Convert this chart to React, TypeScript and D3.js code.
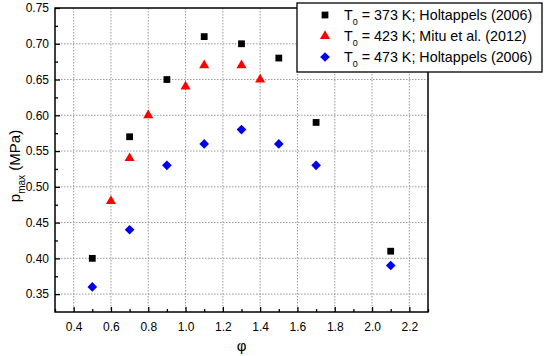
import React, { useEffect, useRef } from 'react';
import * as d3 from 'd3';

const phi373 = [0.5, 0.7, 0.9, 1.1, 1.3, 1.5, 1.7, 2.1];
const p373 = [0.40, 0.57, 0.65, 0.71, 0.70, 0.68, 0.59, 0.41];
const phi423 = [0.6, 0.7, 0.8, 1.0, 1.1, 1.3, 1.4];
const p423 = [0.48, 0.54, 0.60, 0.64, 0.67, 0.67, 0.65];
const phi473 = [0.5, 0.7, 0.9, 1.1, 1.3, 1.5, 1.7, 2.1];
const p473 = [0.36, 0.44, 0.53, 0.56, 0.58, 0.56, 0.53, 0.39];

const xTicks = [0.4, 0.6, 0.8, 1.0, 1.2, 1.4, 1.6, 1.8, 2.0, 2.2];
const yTicks = [0.35, 0.40, 0.45, 0.50, 0.55, 0.60, 0.65, 0.70, 0.75];
const legendTemps = ['373', '423', '473'];
const legendRefs = ['Holtappels (2006)', 'Mitu et al. (2012)', 'Holtappels (2006)'];

const W = 550, H = 356;
const margin = { top: 8, right: 122, bottom: 44, left: 55 };
const font = 'Arial, "Liberation Sans", sans-serif';

const App = () => {
    const ref = useRef(null);

    useEffect(() => {
        const svg = d3.select(ref.current);
        svg.selectAll('*').remove();
        const width = W - margin.left - margin.right;
        const height = H - margin.top - margin.bottom;
        const g = svg.append('g').attr('transform', `translate(${margin.left},${margin.top})`);

        const x = d3.scaleLinear().domain([0.3, 2.3]).range([0, width]);
        const y = d3.scaleLinear().domain([0.325, 0.75]).range([height, 0]);

        // grid
        g.selectAll('.gx').data(xTicks).join('line')
            .attr('x1', d => x(d)).attr('x2', d => x(d))
            .attr('y1', 0).attr('y2', height)
            .attr('stroke', '#999').attr('stroke-dasharray', '1.5,1.5');
        g.selectAll('.gy').data(yTicks.filter(d => d < 0.75)).join('line')
            .attr('y1', d => y(d)).attr('y2', d => y(d))
            .attr('x1', 0).attr('x2', width)
            .attr('stroke', '#999').attr('stroke-dasharray', '1.5,1.5');

        // axes (inward ticks)
        const xAxis = g.append('g').attr('transform', `translate(0,${height})`)
            .call(d3.axisBottom(x).tickValues(xTicks).tickFormat(d3.format('.1f')).tickSize(-5).tickPadding(10));
        const xMinor = g.append('g').attr('transform', `translate(0,${height})`)
            .call(d3.axisBottom(x).tickValues(d3.range(0.3, 2.31, 0.2).map(v => +v.toFixed(1))).tickFormat(() => '').tickSize(-3));
        const yAxis = g.append('g')
            .call(d3.axisLeft(y).tickValues(yTicks).tickFormat(d3.format('.2f')).tickSize(-5).tickPadding(6));
        const yMinor = g.append('g')
            .call(d3.axisLeft(y).tickValues(d3.range(0.375, 0.75, 0.05).map(v => +v.toFixed(3))).tickFormat(() => '').tickSize(-3));
        [xAxis, xMinor, yAxis, yMinor].forEach(a => {
            a.select('.domain').remove();
            a.selectAll('line').attr('stroke', '#000').attr('stroke-width', 1.3);
            a.selectAll('text').attr('fill', '#000').style('font-family', font).style('font-size', '12px');
        });

        g.append('rect').attr('x', 0).attr('y', 0).attr('width', width).attr('height', height)
            .attr('fill', 'none').attr('stroke', '#000').attr('stroke-width', 1.5);

        // markers
        const sq = d3.symbol().type(d3.symbolSquare).size(46);
        const tri = d3.symbol().type(d3.symbolTriangle).size(44);
        const dia = d3.symbol().type(d3.symbolDiamond2).size(60);

        g.selectAll('.s373').data(phi373).join('path')
            .attr('d', sq).attr('fill', '#000')
            .attr('transform', (d, i) => `translate(${x(d)},${y(p373[i])})`);
        g.selectAll('.s423').data(phi423).join('path')
            .attr('d', tri).attr('fill', '#f00')
            .attr('transform', (d, i) => `translate(${x(d)},${y(p423[i])})`);
        g.selectAll('.s473').data(phi473).join('path')
            .attr('d', dia).attr('fill', '#0000ee')
            .attr('transform', (d, i) => `translate(${x(d)},${y(p473[i])})`);

        // axis labels
        svg.append('text')
            .attr('x', margin.left + x(1.3)).attr('y', 351)
            .attr('text-anchor', 'middle')
            .style('font-family', font).style('font-size', '15px')
            .text('φ');
        const yl = svg.append('text')
            .attr('transform', `translate(20,${margin.top + height / 2 + 6}) rotate(-90)`)
            .attr('text-anchor', 'middle')
            .style('font-family', font).style('font-size', '15px');
        yl.append('tspan').text('p');
        yl.append('tspan').attr('dy', 5).style('font-size', '10px').text('max');
        yl.append('tspan').attr('dy', -5).text(' (MPa)');

        // legend
        const lg = svg.append('g').attr('transform', 'translate(297,3)');
        lg.append('rect').attr('width', 245).attr('height', 69)
            .attr('fill', '#fff').attr('stroke', '#000').attr('stroke-width', 1.3);
        const syms = [
            { s: sq, c: '#000' },
            { s: tri, c: '#f00' },
            { s: dia, c: '#0000ee' }
        ];
        legendTemps.forEach((t, i) => {
            const cy = 12 + i * 21;
            lg.append('path').attr('d', syms[i].s).attr('fill', syms[i].c)
                .attr('transform', `translate(28,${cy})`);
            const tx = lg.append('text').attr('x', 47).attr('y', cy + 5)
                .style('font-family', font).style('font-size', '14.3px').attr('fill', '#000');
            tx.append('tspan').text('T');
            tx.append('tspan').attr('dy', 5).style('font-size', '9px').text('0');
            tx.append('tspan').attr('dy', -5).text(` = ${t} K; ${legendRefs[i]}`);
        });
    }, []);

    return (
        <svg ref={ref} width={W} height={H}
            style={{ position: 'absolute', left: 0, top: 0, background: '#fff' }} />
    );
};

export default App;
